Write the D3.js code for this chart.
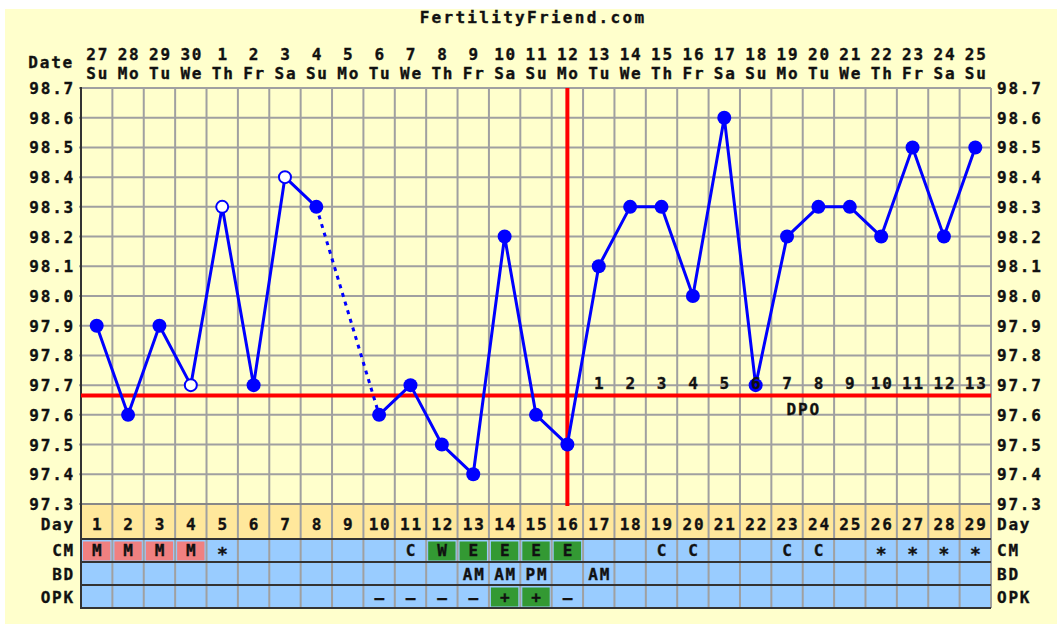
<!DOCTYPE html>
<html><head><meta charset="utf-8">
<script src="https://cdn.jsdelivr.net/npm/d3@7"></script>
<style>
html,body{margin:0;padding:0;background:#fff;}
text{font-family:"DejaVu Sans Mono",monospace;font-weight:bold;fill:#111;stroke:#111;stroke-width:0.35px;letter-spacing:1.8px;}
</style></head><body>
<svg id="c" width="1057" height="624"></svg>
<script>
const days = d3.range(1, 30);
const dates = ["27","28","29","30","1","2","3","4","5","6","7","8","9","10","11","12","13","14","15","16","17","18","19","20","21","22","23","24","25"];
const weekdays = ["Su","Mo","Tu","We","Th","Fr","Sa","Su","Mo","Tu","We","Th","Fr","Sa","Su","Mo","Tu","We","Th","Fr","Sa","Su","Mo","Tu","We","Th","Fr","Sa","Su"];
const temps = [97.9,97.6,97.9,97.7,98.3,97.7,98.4,98.3,null,97.6,97.7,97.5,97.4,98.2,97.6,97.5,98.1,98.3,98.3,98.0,98.6,97.7,98.2,98.3,98.3,98.2,98.5,98.2,98.5];
const openDays = [4,5,7];
const tempTicks = [98.7,98.6,98.5,98.4,98.3,98.2,98.1,98.0,97.9,97.8,97.7,97.6,97.5,97.4,97.3];
const coverline = 97.665;
const ovulationDay = 16;
const dpoLabels = ["1","2","3","4","5","6","7","8","9","10","11","12","13"];
const cm = ["M","M","M","M","*","","","","","","C","W","E","E","E","E","","","C","C","","","C","C","","*","*","*","*"];
const bd = ["","","","","","","","","","","","","AM","AM","PM","","AM","","","","","","","","","","","",""];
const opk = ["","","","","","","","","","–","–","–","–","+","+","–","","","","","","","","","","","","",""];

const svg = d3.select("#c");
svg.append("rect").attr("x",5).attr("y",9).attr("width",1052).attr("height",615).attr("fill","#FFFFCC");

const L = 81, R = 991, T = 88, B = 504;
const x = d3.scaleBand().domain(days).range([L, R]).padding(0);
const cx = d => x(d) + x.bandwidth()/2;
const y = d3.scaleLinear().domain([97.3, 98.7]).range([B, T]);

const rows = [
  {name:"Day", y0:504, y1:539, fill:"#FFE89C"},
  {name:"CM", y0:539, y1:562, fill:"#99CCFF"},
  {name:"BD", y0:562, y1:585, fill:"#99CCFF"},
  {name:"OPK", y0:585, y1:608, fill:"#99CCFF"}
];
rows.forEach(r => svg.append("rect").attr("x",L).attr("y",r.y0).attr("width",R-L).attr("height",r.y1-r.y0).attr("fill",r.fill));

const boxColor = v => v==="M" ? "#F08080" : (v==="W"||v==="E") ? "#339933" : null;
days.forEach((d,i) => {
  const c = boxColor(cm[i]);
  if (c) svg.append("rect").attr("x",x(d)+2).attr("y",541.5).attr("width",x.bandwidth()-4).attr("height",19).attr("fill",c);
  if (opk[i]==="+") svg.append("rect").attr("x",x(d)+2).attr("y",587.5).attr("width",x.bandwidth()-4).attr("height",19).attr("fill","#339933");
});

const g = svg.append("g").attr("stroke","#A0A0A0").attr("stroke-width",2);
tempTicks.forEach(t => g.append("line").attr("x1",L-2).attr("x2",R).attr("y1",y(t)).attr("y2",y(t)));
days.concat([30]).forEach(d => {
  const xx = d===30 ? R : x(d);
  g.append("line").attr("x1",xx).attr("x2",xx).attr("y1",T).attr("y2",608);
});
[504,539,562,585,608].forEach((yy,i) => svg.append("line").attr("x1",L).attr("x2",R).attr("y1",yy).attr("y2",yy)
  .attr("stroke", i===0 ? "#888" : "#333").attr("stroke-width",2));
svg.append("line").attr("x1",L).attr("x2",L).attr("y1",T-1).attr("y2",609).attr("stroke","#333").attr("stroke-width",2);

svg.append("text").attr("x",533).attr("y",23).attr("text-anchor","middle").attr("font-size",16).style("letter-spacing","2.3px").text("FertilityFriend.com");

svg.append("text").attr("x",74).attr("y",68).attr("text-anchor","end").attr("font-size",16).text("Date");
days.forEach((d,i) => {
  svg.append("text").attr("x",cx(d)+1).attr("y",60).attr("text-anchor","middle").attr("font-size",16).text(dates[i]);
  svg.append("text").attr("x",cx(d)+1).attr("y",79).attr("text-anchor","middle").attr("font-size",16).text(weekdays[i]);
});

tempTicks.forEach(t => {
  svg.append("text").attr("x",75).attr("y",y(t)+6).attr("text-anchor","end").attr("font-size",16).text(t.toFixed(1));
  svg.append("text").attr("x",997).attr("y",y(t)+6).attr("text-anchor","start").attr("font-size",16).text(t.toFixed(1));
});

const rowBase = {Day:530, CM:556, BD:580, OPK:603};
rows.forEach(r => {
  svg.append("text").attr("x",75).attr("y",rowBase[r.name]).attr("text-anchor","end").attr("font-size",16).text(r.name);
  svg.append("text").attr("x",997).attr("y",rowBase[r.name]).attr("text-anchor","start").attr("font-size",16).text(r.name);
});
days.forEach((d,i) => {
  svg.append("text").attr("x",cx(d)+1).attr("y",530).attr("text-anchor","middle").attr("font-size",16).text(String(d));
  if (cm[i]) svg.append("text").attr("x",cx(d)+1).attr("y",cm[i]==="*"?560:556).attr("text-anchor","middle").attr("font-size",cm[i]==="*"?18:16).text(cm[i]);
  if (bd[i]) svg.append("text").attr("x",cx(d)+1).attr("y",580).attr("text-anchor","middle").attr("font-size",16).text(bd[i]);
  if (opk[i]) svg.append("text").attr("x",cx(d)+1).attr("y",603).attr("text-anchor","middle").attr("font-size",16).text(opk[i]);
});

svg.append("line").attr("x1",L).attr("x2",R).attr("y1",y(coverline)).attr("y2",y(coverline)).attr("stroke","#FF0000").attr("stroke-width",4);
svg.append("line").attr("x1",cx(ovulationDay)).attr("x2",cx(ovulationDay)).attr("y1",T).attr("y2",506).attr("stroke","#FF0000").attr("stroke-width",4);

const pts = days.map((d,i) => ({d, t: temps[i]}));
const line = d3.line().defined(p => p.t !== null).x(p => cx(p.d)).y(p => y(p.t));
svg.append("path").attr("d", line(pts)).attr("fill","none").attr("stroke","#0000FF").attr("stroke-width",3).attr("stroke-linejoin","round");
const valid = pts.filter(p => p.t !== null);
for (let i = 0; i < valid.length-1; i++) {
  if (valid[i+1].d - valid[i].d > 1) {
    svg.append("path").attr("d", d3.line().x(p=>cx(p.d)).y(p=>y(p.t))([valid[i], valid[i+1]]))
      .attr("stroke","#0000FF").attr("stroke-width",3).attr("stroke-dasharray","4,5").attr("fill","none");
  }
}
valid.forEach(p => {
  const open = openDays.includes(p.d);
  svg.append("circle").attr("cx",cx(p.d)).attr("cy",y(p.t)).attr("r", open ? 6 : 7)
    .attr("fill", open ? "#FFFFFF" : "#0000FF").attr("stroke", open ? "#0000FF" : "none").attr("stroke-width",2);
});

dpoLabels.forEach((lab,i) => {
  const d = ovulationDay + 1 + i;
  svg.append("text").attr("x",cx(d)+1).attr("y",389).attr("text-anchor","middle").attr("font-size",16).text(lab);
});
svg.append("text").attr("x",(cx(23)+cx(24))/2+1).attr("y",415).attr("text-anchor","middle").attr("font-size",16).text("DPO");
</script></body></html>
